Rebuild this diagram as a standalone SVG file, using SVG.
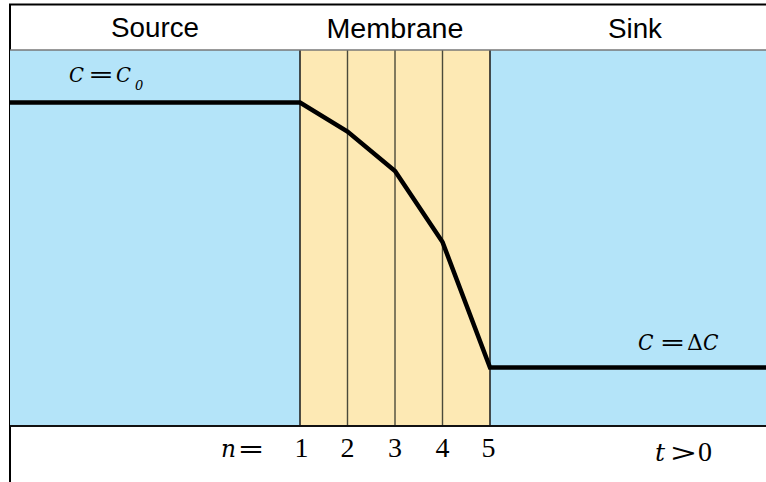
<svg xmlns="http://www.w3.org/2000/svg" width="766" height="482" viewBox="0 0 766 482">
<style>
.hdr{font-family:"Liberation Sans",Arial,sans-serif;font-size:27px;fill:#000;text-anchor:middle}
.mi{font-family:"DejaVu Serif","Liberation Serif",serif;font-style:italic;fill:#000}
.eq{font-family:"DejaVu Serif","Liberation Serif",serif;fill:#000;text-anchor:middle}
.mu{font-family:"Liberation Serif","Times New Roman",serif;fill:#000}
.div{stroke:#4a4a3a;stroke-width:1.4}
</style>
<rect x="0" y="0" width="766" height="482" fill="#fff"/>
<g id="frame">
<line x1="9" y1="4.5" x2="766" y2="4.5" stroke="#000" stroke-width="2"/>
<line x1="10" y1="4" x2="10" y2="482" stroke="#000" stroke-width="2"/>
</g>
<g id="source">
<rect x="10" y="50" width="290" height="376" fill="#b4e4f9"/>
<text class="hdr" x="155" y="37" textLength="88" lengthAdjust="spacingAndGlyphs">Source</text>
<text class="mi" x="69" y="82" font-size="21" textLength="15" lengthAdjust="spacingAndGlyphs">C</text>
<text class="eq" x="101" y="82" font-size="22" textLength="26" lengthAdjust="spacingAndGlyphs">=</text>
<text class="mi" x="116" y="82" font-size="21" textLength="15" lengthAdjust="spacingAndGlyphs">C</text>
<text class="mi" x="135" y="90" font-size="13">0</text>
</g>
<g id="sink">
<rect x="490" y="50" width="276" height="376" fill="#b4e4f9"/>
<text class="hdr" x="635" y="38" textLength="54" lengthAdjust="spacingAndGlyphs">Sink</text>
<text class="mi" x="638" y="350" font-size="22" textLength="15.5" lengthAdjust="spacingAndGlyphs">C</text>
<text class="eq" x="672.5" y="350" font-size="22" textLength="26" lengthAdjust="spacingAndGlyphs">=</text>
<text class="eq" x="695" y="350" font-size="22">Δ</text>
<text class="mi" x="703" y="350" font-size="22" textLength="15.5" lengthAdjust="spacingAndGlyphs">C</text>
<text class="mi" x="655" y="461" font-size="25">t</text>
<text class="eq" x="683.5" y="461" font-size="25" textLength="28" lengthAdjust="spacingAndGlyphs">&gt;</text>
<text class="mu" x="698" y="461" font-size="28">0</text>
</g>
<g id="membrane">
<rect x="300" y="50" width="190" height="376" fill="#fde9b4"/>
<text class="hdr" x="395" y="38" textLength="137" lengthAdjust="spacingAndGlyphs">Membrane</text>
<line class="div" x1="347.5" y1="50" x2="347.5" y2="426"/>
<line class="div" x1="395" y1="50" x2="395" y2="426"/>
<line class="div" x1="442.5" y1="50" x2="442.5" y2="426"/>
<line x1="300" y1="50" x2="300" y2="426" stroke="#222" stroke-width="1.6"/>
<line x1="490" y1="50" x2="490" y2="426" stroke="#222" stroke-width="1.6"/>
</g>
<g id="axis">
<line x1="10" y1="50" x2="766" y2="50" stroke="#777" stroke-width="1.5"/>
<line x1="10" y1="426" x2="766" y2="426" stroke="#111" stroke-width="2"/>
<text class="mi" x="221" y="457" font-size="25" textLength="15" lengthAdjust="spacingAndGlyphs">n</text>
<text class="eq" x="251" y="457" font-size="25" textLength="27" lengthAdjust="spacingAndGlyphs">=</text>
<g class="mu" font-size="28" text-anchor="middle">
<text x="301.5" y="457">1</text>
<text x="347.5" y="457">2</text>
<text x="395" y="457">3</text>
<text x="442.5" y="457">4</text>
<text x="488.5" y="457">5</text>
</g>
</g>
<g id="connectors">
<polyline points="10,102.5 300,102.5 347.5,131.5 395,171 442.5,242 490,367.5 766,367.5" fill="none" stroke="#000" stroke-width="4.5" stroke-linejoin="miter"/>
</g>
</svg>
